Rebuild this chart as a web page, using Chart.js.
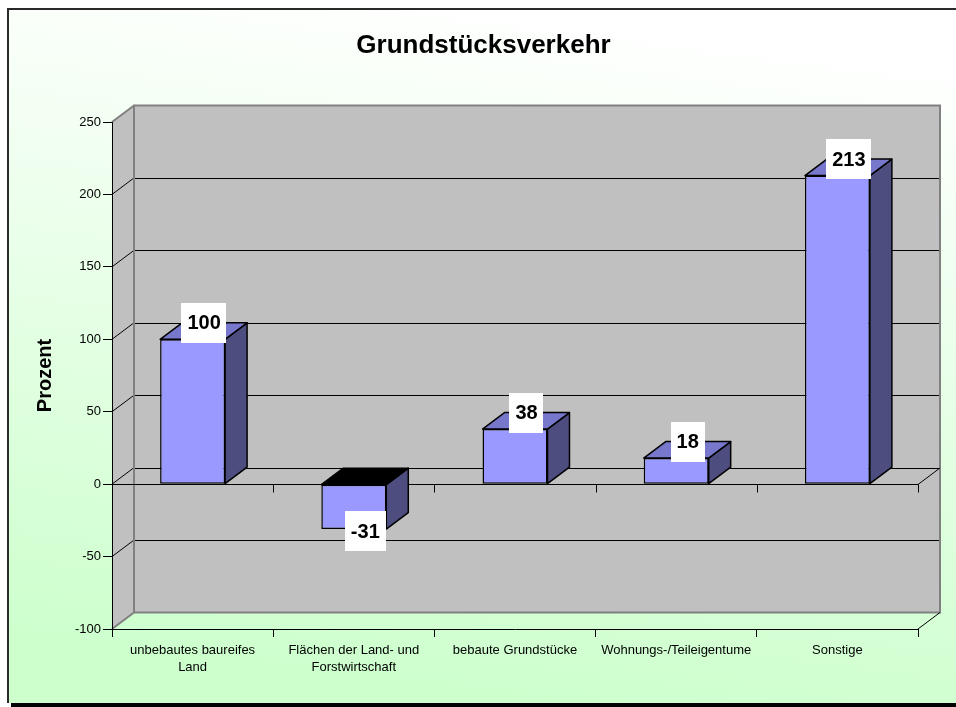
<!DOCTYPE html>
<html><head><meta charset="utf-8">
<script src="https://cdn.jsdelivr.net/npm/chart.js@4/dist/chart.umd.min.js"></script>
<style>html,body{margin:0;padding:0;background:#fff;overflow:hidden}canvas{display:block}</style>
</head><body>
<canvas id="c" width="956" height="707"></canvas>
<script>
const chartTitle = 'Grundstücksverkehr';
const axisTitle = 'Prozent';
const categories = [['unbebautes baureifes', 'Land'], ['Flächen der Land- und', 'Forstwirtschaft'], 'bebaute Grundstücke', 'Wohnungs-/Teileigentume', 'Sonstige'];
const values = [100, -31, 38, 18, 213];
const yMin = -100, yMax = 250, yStep = 50;

const DX = 22, DY = -16.5;
const FONT = '"Liberation Sans", Arial, sans-serif';

const excel3d = {
  id: 'excel3d',
  beforeDraw(chart) {
    const ctx = chart.ctx, W = chart.width, H = chart.height;
    ctx.save();
    ctx.fillStyle = '#fff'; ctx.fillRect(0, 0, W, H);
    const g = ctx.createLinearGradient(520, 8, 430, 703);
    g.addColorStop(0, '#ffffff'); g.addColorStop(1, '#ccffcc');
    ctx.fillStyle = g; ctx.fillRect(8, 9, W - 8, 694);
    ctx.fillStyle = '#2a2a2a';
    ctx.fillRect(7, 8, W - 7, 2);
    ctx.fillRect(7, 8, 2, 695);
    ctx.fillStyle = '#000';
    ctx.fillRect(11, 703, W - 11, 4);

    const ca = chart.chartArea, y = chart.scales.y;
    const L = ca.left, R = ca.right;
    const T = y.getPixelForValue(yMax), B = y.getPixelForValue(yMin);
    ctx.fillStyle = '#c0c0c0';
    ctx.fillRect(L + DX, T + DY, R - L, B - T);
    ctx.beginPath();
    ctx.moveTo(L, T); ctx.lineTo(L + DX, T + DY); ctx.lineTo(L + DX, B + DY); ctx.lineTo(L, B);
    ctx.closePath(); ctx.fill();

    ctx.lineWidth = 1; ctx.strokeStyle = '#000';
    for (let v = yMin + yStep; v < yMax; v += yStep) {
      const py = y.getPixelForValue(v);
      const by = Math.round(py + DY) + 0.5;
      ctx.beginPath(); ctx.moveTo(L + DX, by); ctx.lineTo(R + DX, by); ctx.stroke();
      ctx.beginPath(); ctx.moveTo(L, py); ctx.lineTo(L + DX, py + DY); ctx.stroke();
    }
    ctx.strokeStyle = '#808080'; ctx.lineWidth = 2;
    ctx.strokeRect(L + DX, T + DY, R - L, B - T);
    ctx.beginPath(); ctx.moveTo(L, T); ctx.lineTo(L + DX, T + DY); ctx.stroke();
    ctx.beginPath(); ctx.moveTo(L, B); ctx.lineTo(L + DX, B + DY); ctx.stroke();
    ctx.restore();
  },
  beforeDatasetsDraw(chart) {
    const ctx = chart.ctx, ca = chart.chartArea, y = chart.scales.y;
    const L = ca.left, R = ca.right, n = categories.length;
    const y0 = Math.round(y.getPixelForValue(0)) + 0.5;
    const B = y.getPixelForValue(yMin);
    ctx.save();
    ctx.strokeStyle = '#000'; ctx.lineWidth = 1;
    ctx.beginPath(); ctx.moveTo(L, y0); ctx.lineTo(R, y0); ctx.stroke();
    for (let i = 1; i <= n; i++) {
      const x = Math.round(L + i * (R - L) / n) + 0.5;
      ctx.beginPath(); ctx.moveTo(x, y0); ctx.lineTo(x, y0 + 8); ctx.stroke();
    }
    ctx.beginPath(); ctx.moveTo(R, y0); ctx.lineTo(R + DX, y0 + DY); ctx.stroke();
    ctx.beginPath(); ctx.moveTo(R, B); ctx.lineTo(R + DX, B + DY); ctx.stroke();
    ctx.restore();
  },
  afterDatasetsDraw(chart) {
    const ctx = chart.ctx, meta = chart.getDatasetMeta(0);
    ctx.save();
    ctx.lineWidth = 1.5; ctx.strokeStyle = '#000'; ctx.lineJoin = 'round';
    meta.data.forEach((bar, i) => {
      const v = values[i];
      const x1 = bar.x - bar.width / 2, x2 = bar.x + bar.width / 2;
      const top = Math.min(bar.y, bar.base), bot = Math.max(bar.y, bar.base);
      ctx.beginPath();
      ctx.moveTo(x2, top); ctx.lineTo(x2 + DX, top + DY); ctx.lineTo(x2 + DX, bot + DY); ctx.lineTo(x2, bot);
      ctx.closePath(); ctx.fillStyle = '#4d4d80'; ctx.fill(); ctx.stroke();
      ctx.beginPath();
      ctx.moveTo(x1, top); ctx.lineTo(x1 + DX, top + DY); ctx.lineTo(x2 + DX, top + DY); ctx.lineTo(x2, top);
      ctx.closePath(); ctx.fillStyle = v >= 0 ? '#7777cc' : '#000'; ctx.fill(); ctx.stroke();
    });
    ctx.font = 'bold 20px ' + FONT;
    ctx.textAlign = 'center'; ctx.textBaseline = 'middle';
    meta.data.forEach((bar, i) => {
      const v = values[i];
      const txt = String(v);
      const w = ctx.measureText(txt).width + 12, h = 40;
      const cx = bar.x + 11.5;
      const cy = v >= 0 ? bar.y + DY : bar.y + 2;
      ctx.fillStyle = '#fff';
      ctx.fillRect(Math.round(cx - w / 2), Math.round(cy - h / 2), Math.round(w), h);
      ctx.fillStyle = '#000';
      ctx.fillText(txt, cx, cy + 1);
    });
    ctx.restore();
  },
  afterDraw(chart) {
    const ctx = chart.ctx;
    ctx.save();
    ctx.font = 'bold 26px ' + FONT;
    ctx.fillStyle = '#000'; ctx.textAlign = 'center'; ctx.textBaseline = 'middle';
    ctx.fillText(chartTitle, 483.5, 46);
    ctx.restore();
  }
};

new Chart(document.getElementById('c'), {
  type: 'bar',
  data: {
    labels: categories,
    datasets: [{
      data: values,
      backgroundColor: '#9999ff',
      borderColor: '#000',
      borderWidth: 1.5,
      borderSkipped: false,
      barPercentage: 0.403,
      categoryPercentage: 1
    }]
  },
  options: {
    responsive: false,
    animation: false,
    events: [],
    layout: { padding: { top: 122, right: 38, bottom: 0, left: 0 } },
    plugins: { legend: { display: false }, title: { display: false }, tooltip: { enabled: false } },
    scales: {
      x: {
        afterFit(s) { s.height = 78; },
        grid: { display: true, drawOnChartArea: false, drawTicks: true, tickLength: 8, color: '#000', offset: true },
        border: { display: true, color: '#000', width: 1 },
        ticks: { color: '#000', font: { family: FONT, size: 13, lineHeight: 1.31 }, padding: 4.5, maxRotation: 0, autoSkip: false }
      },
      y: {
        min: yMin, max: yMax,
        afterFit(s) { s.width = 112; },
        grid: { display: true, drawOnChartArea: false, drawTicks: true, tickLength: 9, color: '#000' },
        border: { display: true, color: '#000', width: 1 },
        ticks: { stepSize: yStep, color: '#000', font: { family: FONT, size: 13 }, padding: 2 },
        title: { display: true, text: axisTitle, color: '#000', font: { family: FONT, size: 20, weight: 'bold' }, padding: { top: 33.5, bottom: 0 } }
      }
    }
  },
  plugins: [excel3d]
});
</script>
</body></html>
